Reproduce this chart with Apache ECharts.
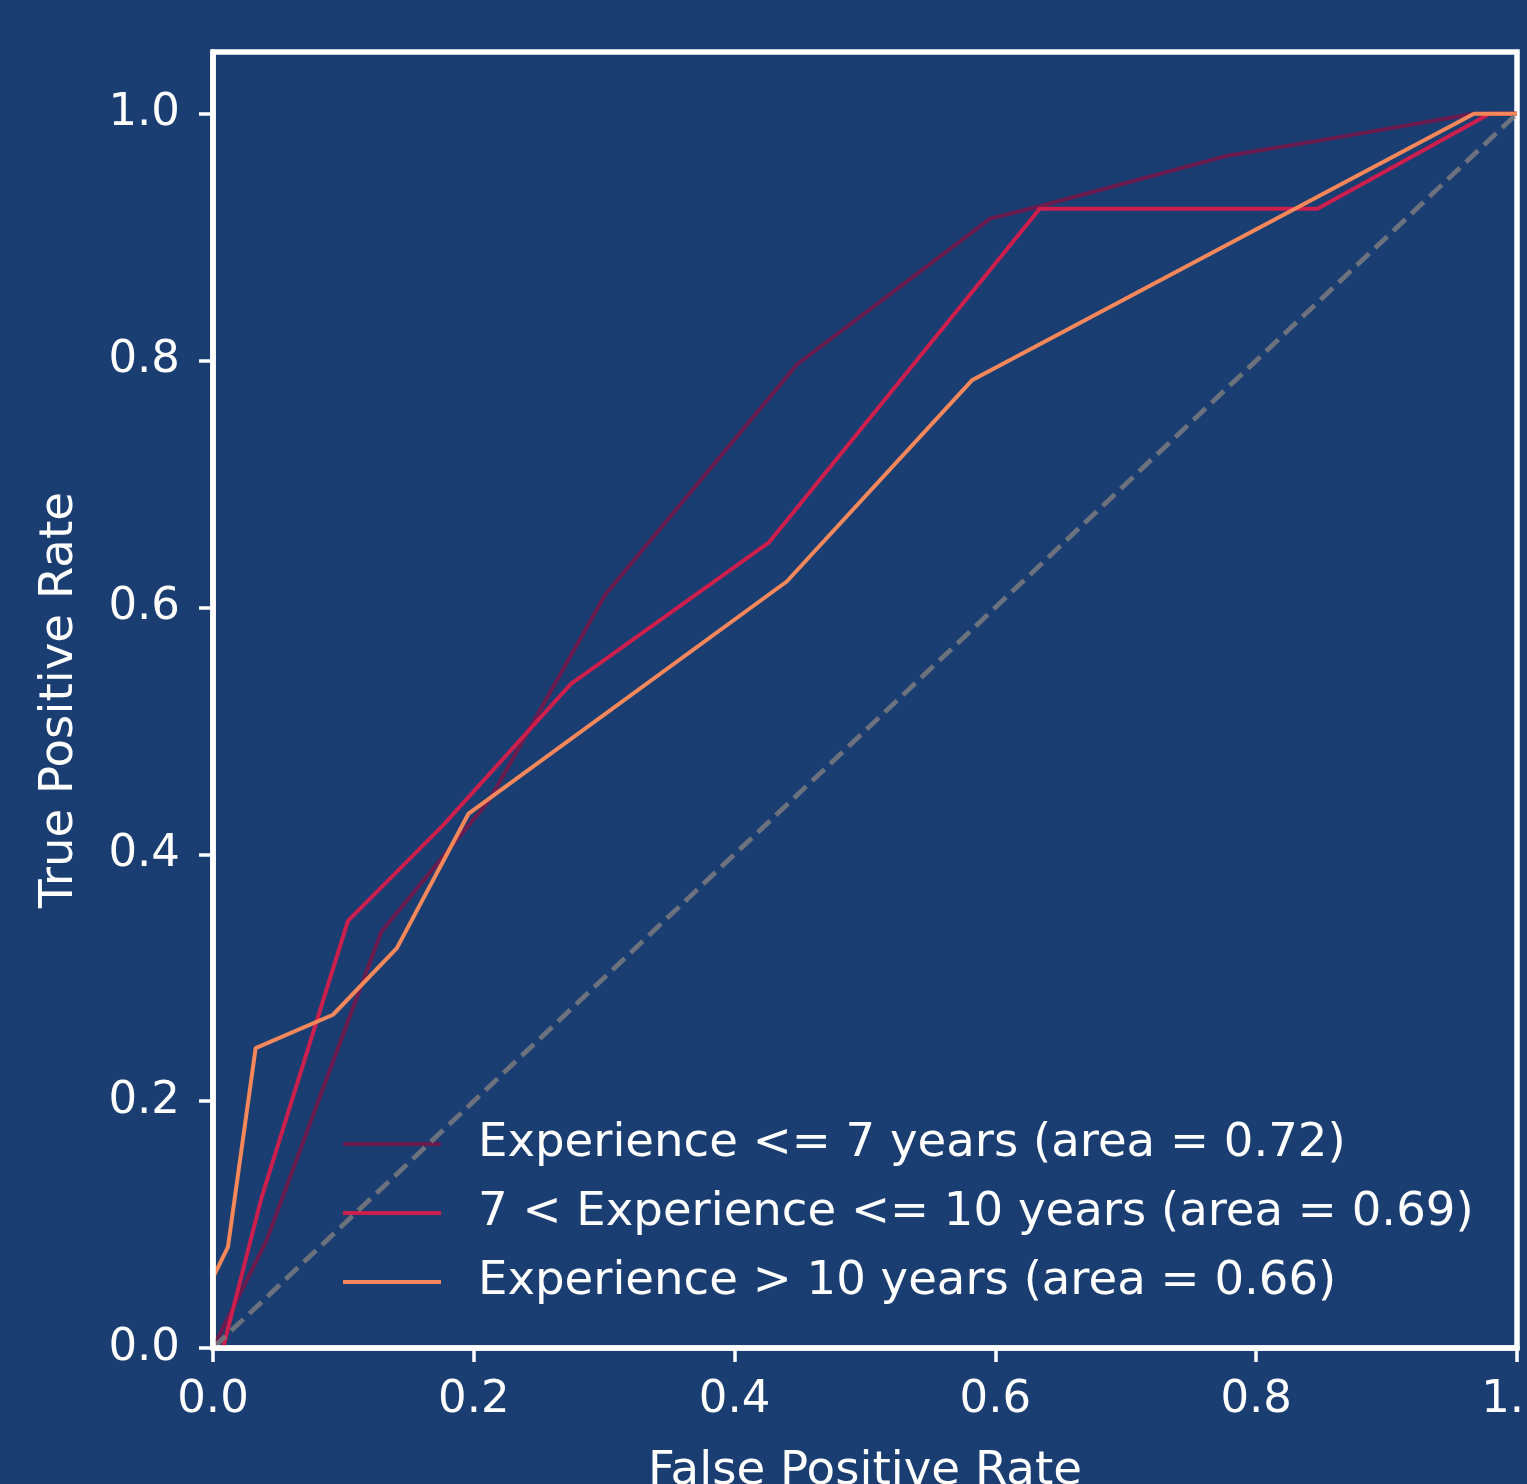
<!DOCTYPE html>
<html>
<head>
<meta charset="utf-8">
<script src="https://cdn.jsdelivr.net/npm/echarts@6/dist/echarts.min.js"></script>
<style>
html,body{margin:0;padding:0;background:#1a3d72;}
#chart{width:1527px;height:1484px;}
</style>
</head>
<body>
<div id="chart"></div>
<script>
// ---- data ----
const seriesNames = [
  'Experience <= 7 years (area = 0.72)',
  '7 < Experience <= 10 years (area = 0.69)',
  'Experience > 10 years (area = 0.66)'
];
const fprLow = [0, 0.041, 0.129, 0.212, 0.3006, 0.448, 0.596, 0.634, 0.778, 0.847, 0.967, 1.0];
const tprLow = [0, 0.087, 0.337, 0.444, 0.610, 0.797, 0.915, 0.925, 0.966, 0.978, 1.0, 1.0];
const fprMid = [0, 0.0077, 0.037, 0.1035, 0.176, 0.2745, 0.4266, 0.634, 0.847, 0.979, 1.0];
const tprMid = [0, 0, 0.121, 0.346, 0.423, 0.538, 0.653, 0.923, 0.923, 1.0, 1.0];
const fprHigh = [0, 0, 0.0115, 0.0327, 0.092, 0.141, 0.196, 0.440, 0.582, 0.967, 1.0];
const tprHigh = [0, 0.057, 0.082, 0.243, 0.270, 0.324, 0.433, 0.621, 0.784, 1.0, 1.0];
const chanceX = [0, 1];
const chanceY = [0, 1];
const xTicks = [0, 0.2, 0.4, 0.6, 0.8, 1.0];
const yTicks = [0, 0.2, 0.4, 0.6, 0.8, 1.0];
const colors = ['#6b1c4f', '#cc1f4e', '#f4885a'];

function pairs(xs, ys) { return xs.map((x, i) => [x, ys[i]]); }

const font = 'DejaVu Sans';
const chart = echarts.init(document.getElementById('chart'), null, {renderer: 'canvas'});
const curves = [[fprLow, tprLow], [fprMid, tprMid], [fprHigh, tprHigh]];

const series = curves.map((c, i) => ({
  name: seriesNames[i],
  type: 'line',
  data: pairs(c[0], c[1]),
  showSymbol: false,
  symbol: 'none',
  lineStyle: {color: colors[i], width: 4},
  itemStyle: {color: colors[i]},
  z: 2 + i
}));
series.push({
  name: 'chance',
  type: 'line',
  data: pairs(chanceX, chanceY),
  showSymbol: false,
  symbol: 'none',
  lineStyle: {color: 'rgba(128,128,128,0.8)', width: 4.8, type: [17, 8]},
  z: 6
});

chart.setOption({
  animation: false,
  backgroundColor: '#1a3d72',
  grid: {
    left: 213, right: 10, top: 52, bottom: 136,
    outerBoundsMode: 'none',
    containLabel: false,
    show: true, borderColor: '#ffffff', borderWidth: 5.5, backgroundColor: 'transparent'
  },
  legend: {
    data: seriesNames,
    orient: 'vertical',
    left: 343, top: 1116,
    padding: 0,
    itemWidth: 98, itemHeight: 4, itemGap: 13,
    icon: 'rect',
    textStyle: {color: '#ffffff', fontFamily: font, fontSize: 46.6, lineHeight: 56, padding: [0, 0, 0, 32]}
  },
  xAxis: {
    type: 'value', min: 0, max: 1, interval: 0.2, z: 10,
    name: 'False Positive Rate', nameLocation: 'middle', nameGap: 100,
    nameTextStyle: {color: '#ffffff', fontFamily: font, fontSize: 46.7},
    axisLine: {show: true, lineStyle: {color: '#ffffff', width: 5.5}},
    axisTick: {show: true, inside: false, length: 14, lineStyle: {color: '#ffffff', width: 3.5}, customValues: xTicks},
    axisLabel: {color: '#ffffff', fontFamily: font, fontSize: 45, margin: 30, customValues: xTicks,
      formatter: v => v.toFixed(1)},
    splitLine: {show: false}
  },
  yAxis: {
    type: 'value', min: 0, max: 1.05, interval: 0.2, z: 10,
    name: 'True Positive Rate', nameLocation: 'middle', nameGap: 130, nameRotate: 90,
    nameTextStyle: {color: '#ffffff', fontFamily: font, fontSize: 46.7},
    axisLine: {show: true, lineStyle: {color: '#ffffff', width: 5.5}},
    axisTick: {show: true, inside: false, length: 14, lineStyle: {color: '#ffffff', width: 3.5}, customValues: yTicks},
    axisLabel: {color: '#ffffff', fontFamily: font, fontSize: 45, margin: 33, customValues: yTicks,
      formatter: v => v.toFixed(1)},
    splitLine: {show: false}
  },
  series: series
});
</script>
</body>
</html>
